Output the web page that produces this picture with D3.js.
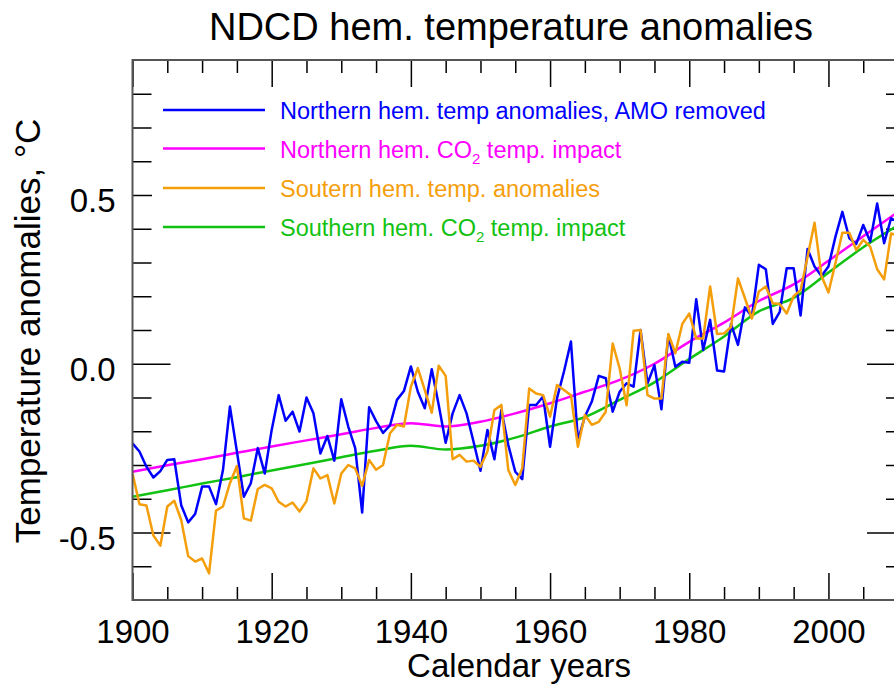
<!DOCTYPE html>
<html>
<head>
<meta charset="utf-8">
<script src="https://cdn.jsdelivr.net/npm/d3@7"></script>
<style>
body { margin: 0; background: #fff; }
text { font-family: "Liberation Sans", Arial, Helvetica, sans-serif; }
</style>
</head>
<body>
<svg width="894" height="684"></svg>
<script>
var years = d3.range(1900, 2011);

var northTemp = [
-0.236, -0.26, -0.305, -0.337, -0.318, -0.285, -0.283, -0.419, -0.47, -0.445,
-0.364, -0.364, -0.416, -0.315, -0.127, -0.26, -0.394, -0.354, -0.25, -0.325,
-0.196, -0.093, -0.169, -0.142, -0.201, -0.1, -0.147, -0.266, -0.214, -0.287,
-0.105, -0.186, -0.25, -0.441, -0.129, -0.17, -0.205, -0.183, -0.107, -0.081,
-0.008, -0.083, -0.132, -0.016, -0.122, -0.234, -0.147, -0.093, -0.147, -0.231,
-0.317, -0.196, -0.283, -0.137, -0.241, -0.32, -0.342, -0.122, -0.122, -0.097,
-0.246, -0.102, -0.023, 0.066, -0.226, -0.157, -0.112, -0.036, -0.043, -0.142,
-0.083, -0.058, -0.068, 0.1, -0.058, -0.004, -0.135, 0.085, -0.009, 0.006,
0.003, 0.191, 0.041, 0.13, -0.02, -0.023, 0.118, 0.056, 0.167, 0.14,
0.293, 0.28, 0.118, 0.154, 0.283, 0.283, 0.143, 0.34, 0.288, 0.26,
0.288, 0.376, 0.45, 0.372, 0.355, 0.411, 0.362, 0.475, 0.357, 0.431,
0.42
];

var southTemp = [
-0.325, -0.416, -0.42, -0.509, -0.539, -0.423, -0.406, -0.463, -0.57, -0.586,
-0.577, -0.621, -0.435, -0.423, -0.354, -0.303, -0.458, -0.465, -0.371, -0.359,
-0.369, -0.409, -0.423, -0.411, -0.438, -0.407, -0.31, -0.34, -0.33, -0.414,
-0.325, -0.3, -0.31, -0.362, -0.285, -0.314, -0.3, -0.206, -0.181, -0.186,
-0.068, -0.013, -0.078, -0.145, -0.006, -0.036, -0.283, -0.27, -0.29, -0.287,
-0.305, -0.26, -0.137, -0.122, -0.315, -0.359, -0.31, -0.073, -0.088, -0.093,
-0.157, -0.063, -0.078, -0.093, -0.246, -0.152, -0.181, -0.172, -0.142, 0.06,
-0.014, -0.123, 0.098, 0.1, -0.093, -0.103, -0.103, 0.088, 0.031, 0.118,
0.149, 0.075, 0.075, 0.229, 0.088, 0.09, 0.109, 0.253, 0.194, 0.134,
0.214, 0.229, 0.179, 0.177, 0.149, 0.2, 0.218, 0.317, 0.418, 0.26,
0.211, 0.298, 0.388, 0.388, 0.337, 0.367, 0.347, 0.28, 0.25, 0.386,
0.38
];

// CO2 impact curves, read every 5 years
var co2Years = [1900, 1905, 1910, 1915, 1920, 1925, 1930, 1935, 1940, 1945, 1950, 1955,
1960, 1965, 1970, 1975, 1980, 1985, 1990, 1995, 2000, 2005, 2010];
var northCO2 = [-0.32, -0.301, -0.283, -0.264, -0.245, -0.227, -0.209, -0.19, -0.176, -0.186, -0.172, -0.147,
-0.117, -0.083, -0.048, 0.0, 0.065, 0.122, 0.186, 0.235, 0.305, 0.378, 0.45];
var southCO2 = [-0.394, -0.375, -0.355, -0.336, -0.316, -0.297, -0.277, -0.258, -0.243, -0.254, -0.243, -0.219,
-0.186, -0.158, -0.107, -0.055, 0.014, 0.081, 0.155, 0.195, 0.27, 0.345, 0.41];

var xMajor = [1900, 1920, 1940, 1960, 1980, 2000];
var yMajor = [-0.5, 0.0, 0.5];

var legendLabels = [
    { text: "Northern hem. temp anomalies, AMO removed", sub: null, color: "#0000ff" },
    { text: "Northern hem. CO", sub: " temp. impact", color: "#ff00ff" },
    { text: "Soutern hem. temp. anomalies", sub: null, color: "#f59e0b" },
    { text: "Southern hem. CO", sub: " temp. impact", color: "#12c212" }
];

var svg = d3.select("svg");

var plotTop = 60, plotBottom = 600, plotLeft = 132.5, plotRight = 905;

var xScale = d3.scaleLinear().domain([1900, 2011]).range([plotLeft, plotRight]),
yScale = d3.scaleLinear().domain([-0.7, 0.9]).range([plotBottom, plotTop]);

svg.append("clipPath").attr("id", "plot")
.append("rect")
.attr("x", plotLeft).attr("y", plotTop)
.attr("width", plotRight - plotLeft).attr("height", plotBottom - plotTop);

var g = svg.append("g");

function series(xs, ys) {
    return xs.map(function (d, i) { return { year: d, value: ys[i] }; });
}

var rough = d3.line()
.x(function (d) { return xScale(d.year); })
.y(function (d) { return yScale(d.value); });

var smooth = d3.line()
.curve(d3.curveMonotoneX)
.x(function (d) { return xScale(d.year); })
.y(function (d) { return yScale(d.value); });

// tick marks on all four sides, minor then major
var xMinor = d3.range(1905, 2011, 5).filter(function (d) { return xMajor.indexOf(d) < 0; });
var yMinorVals = d3.range(-6, 9).map(function (d) { return d / 10; })
.filter(function (d) { return yMajor.indexOf(d) < 0; });

function styleAxis(sel) {
    sel.select(".domain").remove();
    sel.selectAll(".tick line").attr("stroke", "#000").attr("stroke-width", 1.5);
    sel.selectAll(".tick text").attr("font-size", 33).attr("fill", "#000");
}

var yFormat = function (d) { return d3.format(".1f")(d).replace("\u2212", "-"); };

g.append("g").attr("transform", "translate(0," + plotBottom + ")")
.call(d3.axisBottom(xScale).tickValues(xMinor).tickSize(-13).tickFormat(""))
.call(styleAxis);
g.append("g").attr("transform", "translate(0," + plotBottom + ")")
.call(d3.axisBottom(xScale).tickValues(xMajor).tickSize(-27).tickFormat(d3.format("d")))
.call(styleAxis)
.selectAll("text").attr("y", 43).attr("dy", 0);

g.append("g").attr("transform", "translate(0," + plotTop + ")")
.call(d3.axisTop(xScale).tickValues(xMinor).tickSize(-13).tickFormat(""))
.call(styleAxis);
g.append("g").attr("transform", "translate(0," + plotTop + ")")
.call(d3.axisTop(xScale).tickValues(xMajor).tickSize(-27).tickFormat(""))
.call(styleAxis);

var yLeft = g.append("g").attr("transform", "translate(" + plotLeft + ",0)");
yLeft.append("g")
.call(d3.axisLeft(yScale).tickValues(yMinorVals).tickSize(-19).tickFormat(""))
.call(styleAxis);
yLeft.append("g")
.call(d3.axisLeft(yScale).tickValues(yMajor).tickSize(-38).tickFormat(yFormat))
.call(styleAxis)
.selectAll("text").attr("x", -17).attr("dy", "0.5em");

g.append("g").attr("transform", "translate(" + plotRight + ",0)")
.call(d3.axisRight(yScale).tickValues(yMinorVals).tickSize(-19).tickFormat(""))
.call(styleAxis);
g.append("g").attr("transform", "translate(" + plotRight + ",0)")
.call(d3.axisRight(yScale).tickValues(yMajor).tickSize(-38).tickFormat(""))
.call(styleAxis);

var lines = g.append("g").attr("clip-path", "url(#plot)");

lines.append("path").datum(series(co2Years, southCO2))
.attr("d", smooth).attr("fill", "none")
.attr("stroke", legendLabels[3].color).attr("stroke-width", 2.5);

lines.append("path").datum(series(co2Years, northCO2))
.attr("d", smooth).attr("fill", "none")
.attr("stroke", legendLabels[1].color).attr("stroke-width", 2.5);

lines.append("path").datum(series(years, northTemp))
.attr("d", rough).attr("fill", "none")
.attr("stroke", legendLabels[0].color).attr("stroke-width", 2.5)
.attr("stroke-linejoin", "round");

lines.append("path").datum(series(years, southTemp))
.attr("d", rough).attr("fill", "none")
.attr("stroke", legendLabels[2].color).attr("stroke-width", 2.5)
.attr("stroke-linejoin", "round");

// legend box hides the ticks under it
var legend = g.append("g");
legend.append("rect")
.attr("x", 152).attr("y", 87).attr("width", 640).attr("height", 160)
.attr("fill", "#fff");

var rowY = [110, 148.5, 188, 227];
legendLabels.forEach(function (d, i) {
    legend.append("line")
    .attr("x1", 163).attr("x2", 265)
    .attr("y1", rowY[i]).attr("y2", rowY[i])
    .attr("stroke", d.color).attr("stroke-width", 2.5);
    var t = legend.append("text")
    .attr("x", 280).attr("y", rowY[i] + 9)
    .attr("font-size", 23.5).attr("fill", d.color)
    .text(d.text);
    if (d.sub) {
        t.append("tspan").attr("font-size", 15).attr("dy", 6).text("2");
        t.append("tspan").attr("font-size", 23.5).attr("dy", -6).text(d.sub);
    }
});

// frame
g.append("rect")
.attr("x", plotLeft).attr("y", plotTop)
.attr("width", plotRight - plotLeft).attr("height", plotBottom - plotTop)
.attr("fill", "none").attr("stroke", "#555").attr("stroke-width", 2);

svg.append("text")
.attr("x", 511).attr("y", 40)
.attr("text-anchor", "middle").attr("font-size", 38)
.text("NDCD hem. temperature anomalies");

svg.append("text")
.attr("x", 519).attr("y", 677)
.attr("text-anchor", "middle").attr("font-size", 33)
.text("Calendar years");

svg.append("text")
.attr("transform", "translate(40,331) rotate(-90)")
.attr("text-anchor", "middle").attr("font-size", 35)
.text("Temperature anomalies, \u00b0C");
</script>
</body>
</html>
